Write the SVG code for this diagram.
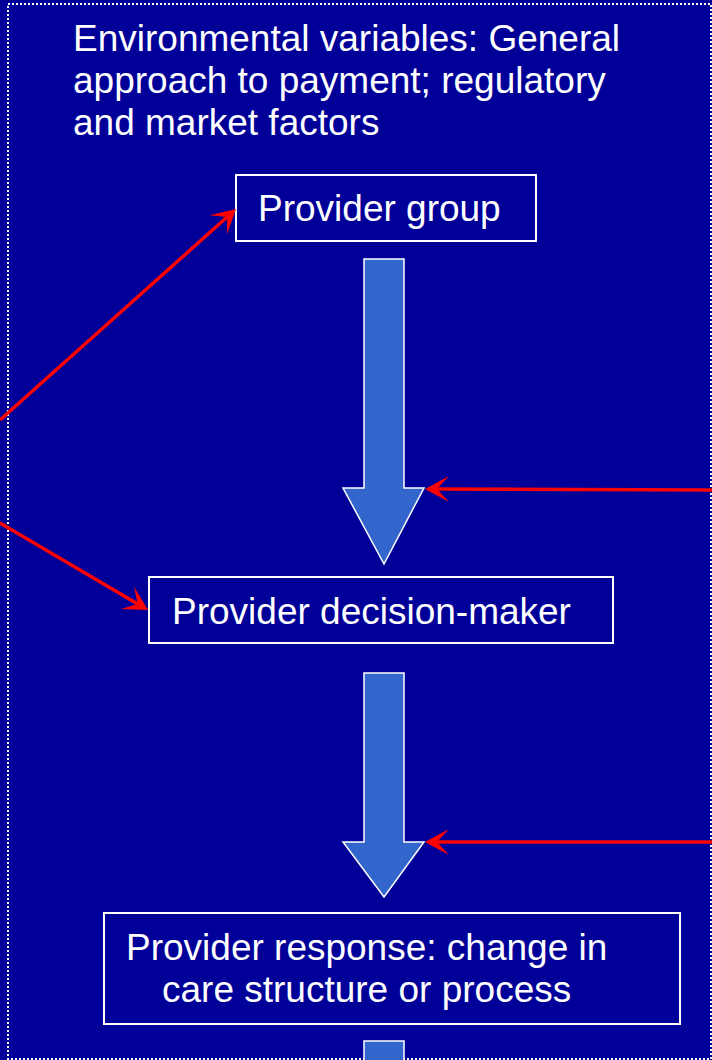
<svg xmlns="http://www.w3.org/2000/svg" width="712" height="1060" viewBox="0 0 712 1060">
<style>
.t{font-family:"Liberation Sans",Arial,sans-serif;font-size:37px;fill:#FFFFFF}
.box{fill:none;stroke:#FFFFFF;stroke-width:2}
.blk{fill:#3366CC;stroke:#FFFFFF;stroke-width:1.5}
.red{fill:none;stroke:#FF0000;stroke-width:3.5}
</style>
<defs>
<marker id="ah" viewBox="-2 -15 28 30" refX="12" refY="0" markerWidth="28" markerHeight="30" markerUnits="userSpaceOnUse" orient="auto" overflow="visible">
<path d="M0,-13 L24,0 L0,13 L12,0 Z" fill="#FF0000"/>
</marker>
</defs>
<rect x="0" y="0" width="712" height="1060" fill="#000099"/>
<rect x="8" y="4" width="703" height="1055" fill="none" stroke="#FFFFFF" stroke-width="2" stroke-dasharray="2 2"/>
<g id="environment">
<text class="t" x="73" y="51">Environmental variables: General</text>
<text class="t" x="73" y="93">approach to payment; regulatory</text>
<text class="t" x="73" y="135">and market factors</text>
</g>
<g id="provider-group">
<rect class="box" x="236" y="175" width="300" height="66"/>
<text class="t" x="258" y="221">Provider group</text>
</g>
<g id="provider-decision-maker">
<rect class="box" x="149" y="577" width="464" height="66"/>
<text class="t" x="172" y="624">Provider decision-maker</text>
</g>
<g id="provider-response">
<rect class="box" x="104" y="913" width="576" height="111"/>
<text class="t" x="126" y="960">Provider response: change in</text>
<text class="t" x="162" y="1002">care structure or process</text>
</g>
<g id="connectors">
<path class="blk" d="M364,259 H404 V488 H424 L384,564 L343,488 H364 Z"/>
<path class="blk" d="M364,673 H404 V842 H424 L384,897 L343,842 H364 Z"/>
<path class="blk" d="M364,1041 H404 V1070 H364 Z"/>
<path class="red" d="M0,420 L227.1,217" marker-end="url(#ah)"/>
<path class="red" d="M0,523 L137.7,603.9" marker-end="url(#ah)"/>
<path class="red" d="M712,490 L437,489" marker-end="url(#ah)"/>
<path class="red" d="M712,842 L437,842" marker-end="url(#ah)"/>
</g>
</svg>
